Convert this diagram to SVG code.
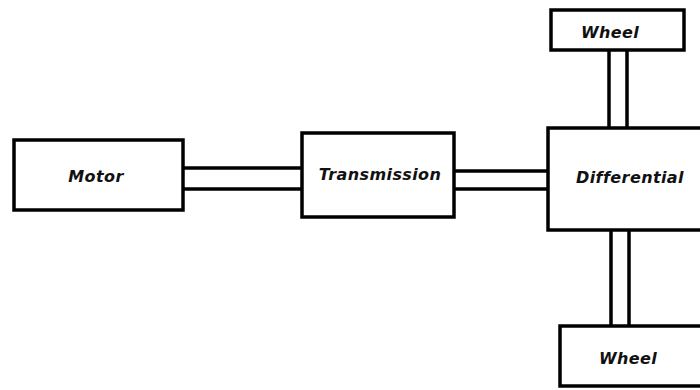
<svg xmlns="http://www.w3.org/2000/svg" width="700" height="390" viewBox="0 0 700 390">
  <style>
    .box { fill: #ffffff; stroke: #000000; stroke-width: 3.5; }
    .shaft { stroke: #000000; stroke-width: 3.5; fill: none; }
    .label { font-family: "DejaVu Sans", "Liberation Sans", sans-serif; font-style: italic; font-weight: bold; font-size: 16px; letter-spacing: 0.4px; fill: #111111; text-anchor: middle; }
  </style>
  <rect x="0" y="0" width="700" height="390" fill="#ffffff"/>

  <!-- drive shafts between units -->
  <g id="connectors">
    <line class="shaft" x1="183" y1="168" x2="302" y2="168"/>
    <line class="shaft" x1="183" y1="189" x2="302" y2="189"/>
    <line class="shaft" x1="454" y1="171" x2="548" y2="171"/>
    <line class="shaft" x1="454" y1="189" x2="548" y2="189"/>
    <line class="shaft" x1="609" y1="50" x2="609" y2="128"/>
    <line class="shaft" x1="627" y1="50" x2="627" y2="128"/>
    <line class="shaft" x1="611" y1="230" x2="611" y2="326"/>
    <line class="shaft" x1="629" y1="230" x2="629" y2="326"/>
  </g>

  <g id="motor">
    <rect class="box" x="14" y="140" width="169" height="70"/>
    <text class="label" x="96" y="182">Motor</text>
  </g>

  <g id="transmission">
    <rect class="box" x="302" y="133" width="152" height="84"/>
    <text class="label" x="380" y="180">Transmission</text>
  </g>

  <g id="differential">
    <rect class="box" x="548" y="128" width="160" height="102"/>
    <text class="label" x="630" y="183">Differential</text>
  </g>

  <g id="wheel-top">
    <rect class="box" x="551" y="10" width="133" height="40"/>
    <text class="label" x="610" y="38">Wheel</text>
  </g>

  <g id="wheel-bottom">
    <rect class="box" x="560" y="326" width="146" height="60"/>
    <text class="label" x="628" y="364">Wheel</text>
  </g>
</svg>
